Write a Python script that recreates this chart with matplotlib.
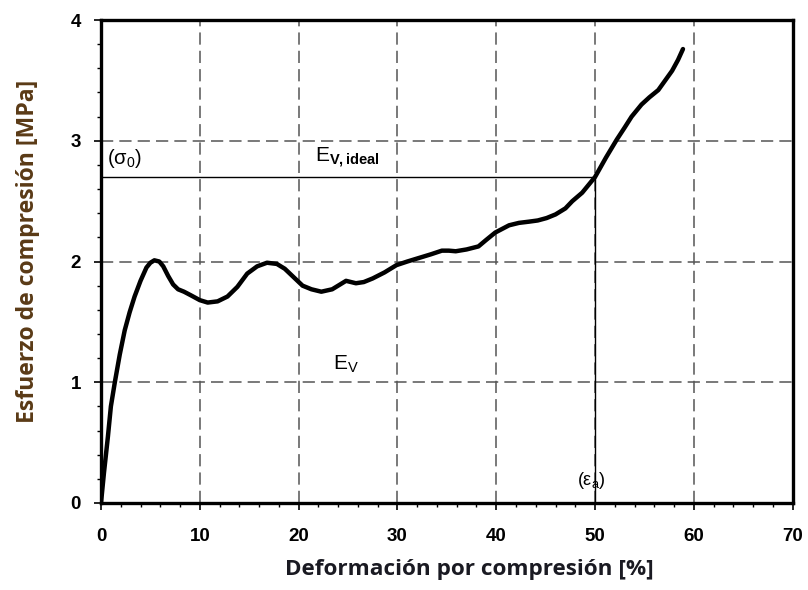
import matplotlib
matplotlib.use("Agg")
import matplotlib.pyplot as plt
from matplotlib.ticker import MultipleLocator

# Data
strain = [0.0, 0.3, 0.7, 1.0, 1.4, 1.9, 2.4, 2.9, 3.4, 4.0, 4.6, 5.0, 5.4, 5.9, 6.3, 6.8, 7.3, 7.8, 8.4,
          9.1, 10.0, 10.8, 11.8, 12.8, 13.8, 14.8, 15.8, 16.8, 17.8, 18.6, 19.5, 20.4, 21.3,
          22.3, 23.4, 24.4, 24.8, 25.3, 25.8, 26.6, 27.5, 28.7, 29.9, 31.0, 32.2, 33.4,
          34.5, 35.2, 35.9, 37.0, 38.2, 39.0, 39.9, 40.6, 41.3, 42.3, 43.3, 44.2, 45.1,
          46.0, 47.0, 47.7, 48.7, 49.4, 50.0, 51.1, 52.2, 53.0, 53.7, 54.7, 55.5, 56.4,
          57.1, 57.8, 58.4, 58.9]
stress = [0.0, 0.25, 0.55, 0.80, 1.00, 1.23, 1.43, 1.58, 1.71, 1.84, 1.95, 1.99, 2.01, 2.00, 1.96, 1.88,
          1.81, 1.77, 1.75, 1.72, 1.68, 1.66, 1.67, 1.71, 1.79, 1.90, 1.96, 1.99, 1.98, 1.94, 1.87,
          1.80, 1.77, 1.75, 1.77, 1.82, 1.84, 1.83, 1.82, 1.83, 1.86, 1.91, 1.97, 2.00,
          2.03, 2.06, 2.09, 2.09, 2.085, 2.10, 2.125, 2.18, 2.24, 2.27, 2.30, 2.32, 2.33,
          2.34, 2.36, 2.39, 2.44, 2.50, 2.57, 2.64, 2.70, 2.86, 3.01, 3.11, 3.20, 3.30,
          3.36, 3.42, 3.50, 3.58, 3.67, 3.76]

sigma0 = 2.7
eps_a = 50

x_ticks = [0, 10, 20, 30, 40, 50, 60, 70]
y_ticks = [0, 1, 2, 3, 4]
x_label = "Deformación por compresión [%]"
y_label = "Esfuerzo de compresión [MPa]"

plt.rcParams['font.family'] = ['Liberation Sans', 'DejaVu Sans']
plt.rcParams['mathtext.fontset'] = 'custom'
plt.rcParams['mathtext.rm'] = 'Liberation Sans'
plt.rcParams['mathtext.it'] = 'Liberation Sans'
plt.rcParams['mathtext.bf'] = 'Liberation Sans:bold'

fig = plt.figure(figsize=(8.08, 5.90), dpi=100)
ax = fig.add_axes([0.125, 0.1475, 0.856, 0.8185])

ax.set_xlim(0, 70)
ax.set_ylim(0, 4)
ax.set_xticks(x_ticks)
ax.set_yticks(y_ticks)
ax.xaxis.set_minor_locator(MultipleLocator(2))
ax.yaxis.set_minor_locator(MultipleLocator(0.2))
ax.tick_params(which='major', direction='out', length=5, width=1.2, labelsize=13.5, pad=9.5)
ax.tick_params(axis='x', which='major', pad=13)
ax.tick_params(which='minor', direction='out', length=3, width=1.0)
for lab in ax.get_xticklabels() + ax.get_yticklabels():
    lab.set_fontweight('bold')

ax.grid(True, which='major', color='#555555', linestyle=(0, (8, 4)), linewidth=1.1)
for sp in ax.spines.values():
    sp.set_linewidth(2.4)

ax.plot(strain, stress, color='black', linewidth=3.2, solid_capstyle='round',
        solid_joinstyle='round', zorder=5)
ax.plot([0, eps_a], [sigma0, sigma0], color='black', linewidth=1.0, zorder=4)
ax.plot([eps_a, eps_a], [0, sigma0], color='black', linewidth=1.0, zorder=4)

ax.text(0.65, 2.76, r'($\sigma_0$)', fontsize=14.5, ha='left', va='bottom')
ax.text(21.7, 2.76, r'E$_{\mathbf{V,ideal}}$', fontsize=15, ha='left', va='bottom')
ax.text(23.5, 1.06, r'E$_\mathregular{V}$', fontsize=15, ha='left', va='bottom')
ax.text(48.2, 0.10, r'($\epsilon_a$)', fontsize=13, ha='left', va='bottom')

ax.set_xlabel(x_label, family=['Open Sans', 'DejaVu Sans'], fontweight='bold',
              fontsize=16.2, color='#1a1a22', va='center', ha='center')
ax.xaxis.set_label_coords(0.533, -0.137)
ax.set_ylabel(y_label, family=['Open Sans', 'DejaVu Sans'], fontweight='bold',
              fontsize=16.6, color='#5a3a16', va='center', ha='center')
ax.yaxis.set_label_coords(-0.105, 0.522)

fig.savefig('out.png', dpi=100)
